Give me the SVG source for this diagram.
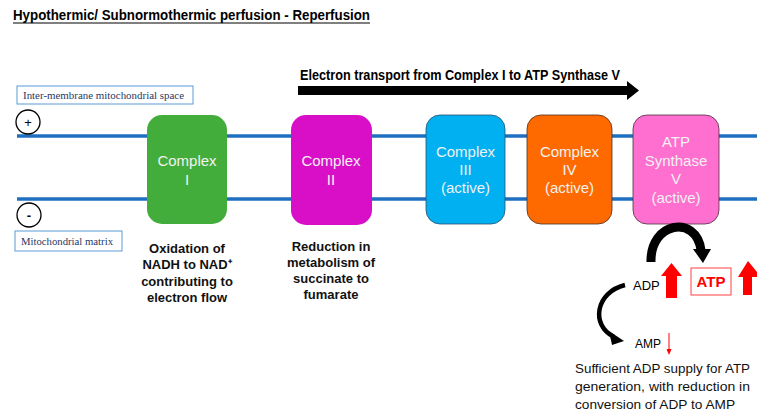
<svg xmlns="http://www.w3.org/2000/svg" width="757" height="412" viewBox="0 0 757 412">
<style>
.t{font-family:"Liberation Sans",Arial,sans-serif}
.b{font-weight:bold}
.lbl{font-family:"Liberation Serif","Times New Roman",serif;font-size:10.5px;fill:#1f3864}
.lbox{fill:#fff;stroke:#5b9bd5;stroke-width:1}
.cx{font-family:"Liberation Sans",Arial,sans-serif;font-size:15px;fill:#f2f2f2;text-anchor:middle}
.desc{font-family:"Liberation Sans",Arial,sans-serif;font-size:13px;font-weight:bold;fill:#111;text-anchor:middle}
.mem{stroke:#1f6fc0;stroke-width:3.5}
.red{fill:#ff0000}
.sum{font-family:"Liberation Sans",Arial,sans-serif;font-size:13.5px;fill:#111}
</style>
<rect width="757" height="412" fill="#fff"/>
<g id="title">
<text class="t b" x="13" y="20" font-size="14" textLength="357" lengthAdjust="spacingAndGlyphs" fill="#000">Hypothermic/ Subnormothermic perfusion - Reperfusion</text>
<line x1="13" y1="23" x2="370" y2="23" stroke="#000" stroke-width="1"/>
</g>
<g id="membranes">
<line class="mem" x1="17" y1="136" x2="757" y2="136"/>
<line class="mem" x1="17" y1="199" x2="757" y2="199"/>
</g>
<g id="ims-label">
<rect class="lbox" x="17" y="86" width="176" height="18"/>
<text class="lbl" x="23" y="99" textLength="161" lengthAdjust="spacingAndGlyphs">Inter-membrane  mitochondrial  space</text>
</g>
<g id="matrix-label">
<rect class="lbox" x="15" y="231" width="107" height="20"/>
<text class="lbl" x="21" y="245" textLength="92" lengthAdjust="spacingAndGlyphs">Mitochondrial matrix</text>
</g>
<g id="plus">
<circle cx="28" cy="122" r="12" fill="#fff" stroke="#000" stroke-width="1.3"/>
<text class="t" x="28" y="127" font-size="13" text-anchor="middle" fill="#000">+</text>
</g>
<g id="minus">
<circle cx="29" cy="215" r="12" fill="#fff" stroke="#000" stroke-width="1.3"/>
<text class="t b" x="29" y="220" font-size="13" text-anchor="middle" fill="#000">-</text>
</g>
<g id="electron-transport">
<text class="t b" x="300" y="80" font-size="14.5" textLength="320" lengthAdjust="spacingAndGlyphs" fill="#000">Electron transport from Complex I to ATP Synthase V</text>
<polygon points="298,86 627,86 627,81 639,90.5 627,100 627,95 298,95" fill="#000"/>
</g>
<g id="complex1">
<rect x="147" y="115" width="80" height="109" rx="15" fill="#43ad3b"/>
<text class="cx" x="187" y="166">Complex</text>
<text class="cx" x="187" y="185">I</text>
</g>
<g id="complex2">
<rect x="291" y="115" width="81" height="110" rx="15" fill="#d90fc8"/>
<text class="cx" x="331" y="166">Complex</text>
<text class="cx" x="331" y="185">II</text>
</g>
<g id="complex3">
<rect x="426" y="115" width="79" height="109" rx="14" fill="#00b0f0" stroke="#2f4f6f" stroke-width="0.8"/>
<text class="cx" x="465.5" y="157">Complex</text>
<text class="cx" x="465.5" y="175">III</text>
<text class="cx" x="465.5" y="193">(active)</text>
</g>
<g id="complex4">
<rect x="527" y="115" width="85" height="109" rx="14" fill="#ff6a00" stroke="#4a3020" stroke-width="0.8"/>
<text class="cx" x="569.5" y="157">Complex</text>
<text class="cx" x="569.5" y="175">IV</text>
<text class="cx" x="569.5" y="193">(active)</text>
</g>
<g id="complex5">
<rect x="633" y="115" width="86" height="109" rx="14" fill="#ff6fcf" stroke="#4a3040" stroke-width="0.8"/>
<text class="cx" x="676" y="147">ATP</text>
<text class="cx" x="676" y="166">Synthase</text>
<text class="cx" x="676" y="184">V</text>
<text class="cx" x="676" y="203">(active)</text>
</g>
<g id="desc1">
<text class="desc" x="187" y="253">Oxidation of</text>
<text class="desc" x="187" y="269">NADH to NAD⁺</text>
<text class="desc" x="187" y="286">contributing to</text>
<text class="desc" x="187" y="302">electron flow</text>
</g>
<g id="desc2">
<text class="desc" x="331" y="251">Reduction in</text>
<text class="desc" x="331" y="267">metabolism of</text>
<text class="desc" x="331" y="283">succinate to</text>
<text class="desc" x="331" y="299">fumarate</text>
</g>
<g id="connectors">
<path d="M651,262 C650,222 696,214 701,250" fill="none" stroke="#000" stroke-width="9"/>
<polygon points="693,249 711,249 703,263" fill="#000"/>
<path d="M625,285 C596,292 590,325 614,337" fill="none" stroke="#000" stroke-width="4.5"/>
<polygon points="609,331 624,341 612,345" fill="#000"/>
</g>
<g id="adp">
<text class="t" x="633" y="290" font-size="13" fill="#000">ADP</text>
<polygon class="red" points="671.5,263 682,276 677,276 677,298 666,298 666,276 661,276"/>
</g>
<g id="atp">
<rect x="691" y="268" width="40" height="27" fill="#fff" stroke="#ff4040" stroke-width="1"/>
<text class="t b" x="711" y="287" font-size="15" text-anchor="middle" fill="#ff0000">ATP</text>
<polygon class="red" points="748,261 757,272 757,277 752,277 752,295 743,295 743,277 738,277"/>
</g>
<g id="amp">
<text class="t" x="635" y="348" font-size="12" fill="#000">AMP</text>
<line x1="669" y1="333" x2="669" y2="350" stroke="#ff0000" stroke-width="1"/>
<polygon class="red" points="666.5,349 671.5,349 669,355"/>
</g>
<g id="summary">
<text class="sum" x="575" y="373" textLength="175" lengthAdjust="spacingAndGlyphs">Sufficient ADP supply for ATP</text>
<text class="sum" x="575" y="391" textLength="175" lengthAdjust="spacingAndGlyphs">generation, with reduction in</text>
<text class="sum" x="575" y="409" textLength="160" lengthAdjust="spacingAndGlyphs">conversion of ADP to AMP</text>
</g>
</svg>
